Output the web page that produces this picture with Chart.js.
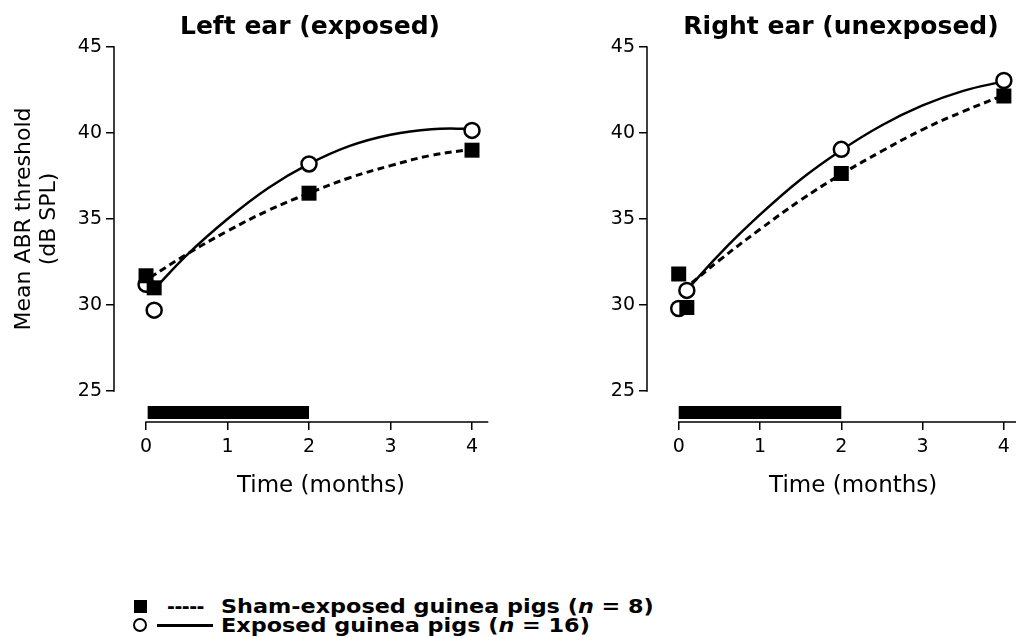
<!DOCTYPE html>
<html>
<head>
<meta charset="utf-8">
<script src="https://cdn.jsdelivr.net/npm/chart.js@4.4.0/dist/chart.umd.min.js"></script>
<style>
html, body { margin:0; padding:0; background:#fff; overflow:hidden; width:1016px; height:637px; }
#wrap { position:relative; width:1016px; height:637px; overflow:hidden; background:#fff; }
canvas { position:absolute; top:0; }
.ptitle { position:absolute; top:11px; height:30px; font:bold 25px/30px "DejaVu Sans", sans-serif; text-align:center; white-space:nowrap; color:#000; }
.leg { position:absolute; font:bold 19px/22px "DejaVu Sans", sans-serif; height:22px; white-space:nowrap; color:#000; }
.stretch { transform:scaleX(1.175); transform-origin:0 50%; }
.sq { position:absolute; background:#000; }
.ring { position:absolute; box-sizing:border-box; border:2.5px solid #000; border-radius:50%; background:#fff; }
.ln { position:absolute; background:#000; }
</style>
</head>
<body>
<div id="wrap">
  <canvas id="leftEar" width="540" height="520" style="left:0px"></canvas>
  <canvas id="rightEar" width="540" height="520" style="left:530px"></canvas>
  <div class="ptitle" style="left:110px;width:400px">Left ear (exposed)</div>
  <div class="ptitle" style="left:641px;width:400px">Right ear (unexposed)</div>

  <div class="sq" style="left:134px;top:600px;width:13px;height:13px"></div>
  <div class="leg" style="left:167px;top:595px;letter-spacing:-0.5px">-----</div>
  <div class="leg stretch" style="left:221px;top:595px">Sham-exposed guinea pigs (<i>n</i> = 8)</div>

  <div class="ring" style="left:133px;top:618px;width:14px;height:14px"></div>
  <div class="ln" style="left:157px;top:624px;width:56px;height:2.5px"></div>
  <div class="leg stretch" style="left:221px;top:614px">Exposed guinea pigs (<i>n</i> = 16)</div>
</div>
<script>
// ---------------- data ----------------
const months = [0, 0.1, 2, 4];                       // measurement times (months)
const leftSham     = [31.7, 31.0, 36.5, 39.0];       // left ear, sham-exposed (dB SPL)
const leftExposed  = [31.2, 29.7, 38.2, 40.15];      // left ear, exposed
const rightSham    = [31.8, 29.85, 37.65, 42.15];    // right ear, sham-exposed
const rightExposed = [29.8, 30.85, 39.05, 43.05];    // right ear, exposed

const fitMonths = [0.05, 0.5, 1, 1.5, 2, 2.5, 3, 3.5, 4];      // fitted-curve sample times
const leftShamFit     = [31.6, 32.95, 34.3, 35.5, 36.5, 37.4, 38.1, 38.7, 39.05];
const leftExposedFit  = [30.65, 32.9, 35.0, 36.8, 38.2, 39.25, 39.9, 40.22, 40.25];
const rightShamFit    = [30.85, 32.6, 34.4, 36.1, 37.6, 38.95, 40.2, 41.25, 42.2];
const rightExposedFit = [30.6, 32.95, 35.25, 37.3, 39.0, 40.45, 41.6, 42.45, 43.0];

const leftExposurePeriod  = [0.02, 2.0];   // noise exposure period (months)
const rightExposurePeriod = [0.0, 2.0];

const yTicks = [25, 30, 35, 40, 45];
const xTicks = [0, 1, 2, 3, 4];
const yTitle = ['Mean ABR threshold', '(dB SPL)'];
const xTitle = 'Time (months)';

// ---------------- styling / layout ----------------
Chart.defaults.font.family = '"DejaVu Sans", sans-serif';
Chart.defaults.color = '#000';
const Y_MIN = 23.2, Y_MAX = 46.8;
const Y_AXIS_SPAN = [25, 45];
const X_AXIS_SPAN = [0, 4.2];
const BAR_LEVEL = 23.75;

const axisLines = {
  id: 'axisLines',
  afterDraw(chart) {
    const { ctx, chartArea, scales: { x, y } } = chart;
    ctx.save();
    ctx.strokeStyle = '#000';
    ctx.lineWidth = 1.5;
    ctx.beginPath();
    ctx.moveTo(chartArea.left, y.getPixelForValue(Y_AXIS_SPAN[0]) + 0.75);
    ctx.lineTo(chartArea.left, y.getPixelForValue(Y_AXIS_SPAN[1]) - 0.75);
    ctx.moveTo(x.getPixelForValue(X_AXIS_SPAN[0]) - 0.75, chartArea.bottom);
    ctx.lineTo(x.getPixelForValue(X_AXIS_SPAN[1]), chartArea.bottom);
    ctx.stroke();
    ctx.restore();
  }
};

function pts(xs, ys) { return xs.map((m, i) => ({ x: m, y: ys[i] })); }

function buildDatasets(sham, exposed, shamFit, expFit, period) {
  return [
    { label: 'Sham-exposed guinea pigs', data: pts(months, sham), showLine: false,
      pointStyle: 'rect', pointRadius: 10.6, backgroundColor: '#000', borderColor: '#000', borderWidth: 0 },
    { label: 'Exposed guinea pigs', data: pts(months, exposed), showLine: false,
      pointStyle: 'circle', pointRadius: 7.5, backgroundColor: '#fff', borderColor: '#000', borderWidth: 2.5 },
    { label: 'Sham fit', data: pts(fitMonths, shamFit), showLine: true, pointRadius: 0,
      borderColor: '#000', borderWidth: 3, borderDash: [7, 4.5], tension: 0.4, fill: false },
    { label: 'Exposed fit', data: pts(fitMonths, expFit), showLine: true, pointRadius: 0,
      borderColor: '#000', borderWidth: 2.5, tension: 0.4, fill: false },
    { label: 'Exposure period', data: period.map(m => ({ x: m, y: BAR_LEVEL })), showLine: true, pointRadius: 0,
      borderColor: '#000', borderWidth: 13, borderCapStyle: 'butt', fill: false }
  ];
}

function makePanel(id, datasets, cfg) {
  return new Chart(document.getElementById(id), {
    type: 'scatter',
    data: { datasets },
    plugins: [axisLines],
    options: {
      responsive: false,
      animation: false,
      devicePixelRatio: 1,
      events: [],
      layout: { padding: { top: 16, right: cfg.padRight, bottom: 20, left: 0 } },
      plugins: { legend: { display: false }, tooltip: { enabled: false }, title: { display: false } },
      scales: {
        x: {
          type: 'linear', min: cfg.xMin, max: cfg.xMax,
          afterBuildTicks: s => { s.ticks = xTicks.map(v => ({ value: v })); },
          afterFit: s => { s.height = 78; },
          ticks: { font: { size: 19 }, padding: 6, maxRotation: 0, autoSkip: false, color: '#000' },
          grid: { display: true, drawOnChartArea: false, drawTicks: true, tickLength: 8, color: '#000', lineWidth: 1.5 },
          border: { display: false },
          title: { display: true, text: xTitle, font: { size: 23, lineHeight: 1.2 }, padding: { top: 0, bottom: 0 }, color: '#000' }
        },
        y: {
          type: 'linear', min: Y_MIN, max: Y_MAX,
          afterBuildTicks: s => { s.ticks = yTicks.map(v => ({ value: v })); },
          afterFit: s => { s.width = cfg.yWidth; },
          ticks: { font: { size: 19 }, padding: 4, autoSkip: false, color: '#000' },
          grid: { display: true, drawOnChartArea: false, drawTicks: true, tickLength: 8, color: '#000', lineWidth: 1.5 },
          border: { display: false },
          title: { display: cfg.showYTitle, text: yTitle, font: { size: 22, lineHeight: '25px' },
                   padding: { top: 12, bottom: 0 }, color: '#000' }
        }
      }
    }
  });
}

makePanel('leftEar',
  buildDatasets(leftSham, leftExposed, leftShamFit, leftExposedFit, leftExposurePeriod),
  { xMin: -0.393, xMax: 4.687, yWidth: 114, padRight: 12, showYTitle: true });

makePanel('rightEar',
  buildDatasets(rightSham, rightExposed, rightShamFit, rightExposedFit, rightExposurePeriod),
  { xMin: -0.39, xMax: 4.683, yWidth: 117, padRight: 7, showYTitle: false });
</script>
</body>
</html>
